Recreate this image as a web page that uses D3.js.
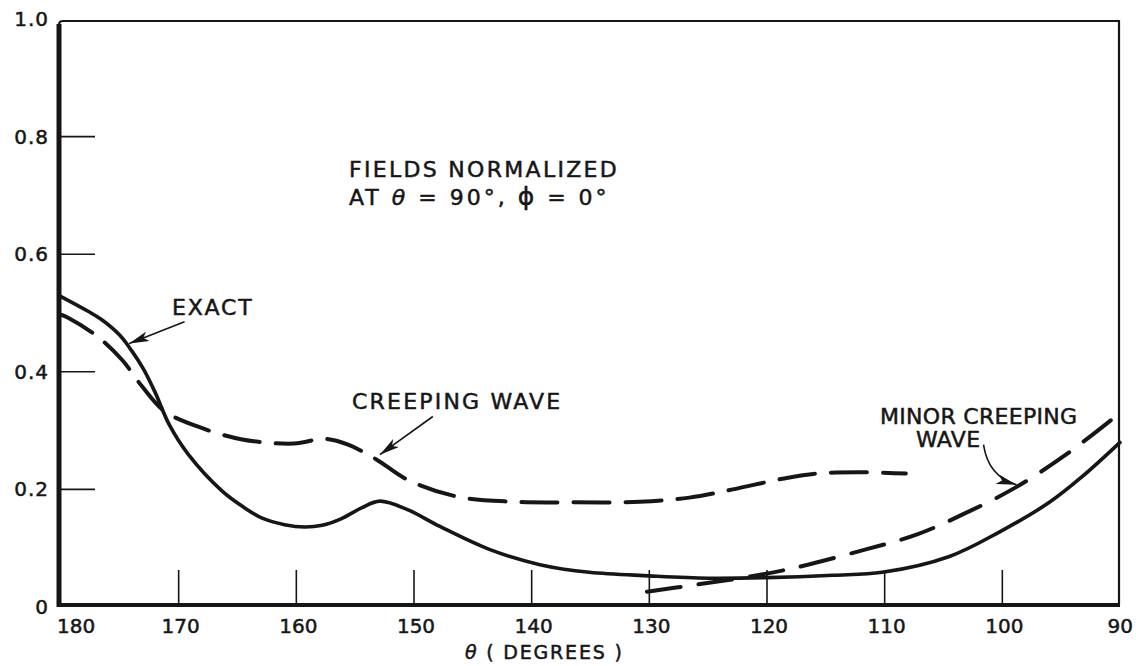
<!DOCTYPE html>
<html>
<head>
<meta charset="utf-8">
<script src="https://cdn.jsdelivr.net/npm/d3@7"></script>
<style>
  html, body { margin: 0; padding: 0; background: #fff; }
  svg { display: block; }
  text { font-family: "DejaVu Sans", sans-serif; fill: #161616; stroke: #161616; stroke-width: 0.5; }
</style>
</head>
<body>
<svg id="chart" width="1136" height="666"></svg>
<script>
// values (theta in degrees, normalized field)
const exactTheta = [180, 177.7, 176.5, 175, 174, 173, 172, 170.8, 169.2, 166.3, 164.5, 162.9, 161, 159.3, 157.8, 156.2, 154.5, 152.9, 150.6, 147.8, 143.6, 139.3, 135.1, 130, 125, 120, 114.4, 110.2, 104.5, 100.3, 96, 93.2, 90];
const exactVal   = [0.528, 0.503, 0.488, 0.462, 0.436, 0.405, 0.365, 0.31, 0.26, 0.197, 0.17, 0.151, 0.14, 0.136, 0.139, 0.15, 0.168, 0.18, 0.166, 0.137, 0.098, 0.072, 0.059, 0.053, 0.049, 0.05, 0.054, 0.059, 0.086, 0.127, 0.178, 0.222, 0.28];

const creepTheta = [180, 179.4, 176.9, 174.8, 173.1, 171.2, 168.4, 164.6, 160.2, 157.6, 155.6, 153.2, 150.6, 146.4, 141.6, 136.5, 130.8, 126.6, 122.9, 118.7, 115.8, 111.6, 108.2];
const creepVal   = [0.497, 0.492, 0.46, 0.42, 0.375, 0.333, 0.307, 0.285, 0.278, 0.286, 0.276, 0.251, 0.217, 0.188, 0.179, 0.178, 0.179, 0.186, 0.2, 0.218, 0.227, 0.229, 0.227];

const minorTheta = [130.2, 126, 122, 118, 111.6, 107.3, 103.1, 98.9, 94.6, 90.5];
const minorVal   = [0.026, 0.038, 0.05, 0.065, 0.098, 0.123, 0.16, 0.203, 0.259, 0.322];

const xTicks = [180, 170, 160, 150, 140, 130, 120, 110, 100, 90];
const yTicks = [0, 0.2, 0.4, 0.6, 0.8, 1.0];
const yTickLabels = ["0", "0.2", "0.4", "0.6", "0.8", "1.0"];

const svg = d3.select("#chart");
const ink = "#161616";

const x = d3.scaleLinear().domain([180, 90]).range([61, 1120]);
const y = d3.scaleLinear().domain([0, 1]).range([607, 19]);

const frameL = 59, frameR = 1119, frameT = 21, frameB = 605;

// frame: thin top/right, heavy left/bottom
svg.append("path")
  .attr("d", `M${frameL},${frameT + 4} Q${frameL},${frameT} ${frameL + 4},${frameT} L${frameR},${frameT} L${frameR},${frameB}`)
  .attr("fill", "none").attr("stroke", ink).attr("stroke-width", 2.2);
svg.append("line").attr("x1", frameL).attr("x2", frameL).attr("y1", frameT + 3).attr("y2", frameB + 2)
  .attr("stroke", ink).attr("stroke-width", 5);
svg.append("line").attr("x1", frameL - 2).attr("x2", frameR + 1).attr("y1", frameB).attr("y2", frameB)
  .attr("stroke", ink).attr("stroke-width", 4);

// inward ticks
svg.append("g").selectAll("line").data(yTicks.slice(1, -1)).join("line")
  .attr("x1", frameL).attr("x2", frameL + 36)
  .attr("y1", d => y(d)).attr("y2", d => y(d))
  .attr("stroke", ink).attr("stroke-width", 1.6);

svg.append("g").selectAll("line").data(xTicks.slice(1, -1)).join("line")
  .attr("x1", d => x(d)).attr("x2", d => x(d))
  .attr("y1", frameB).attr("y2", frameB - 35)
  .attr("stroke", ink).attr("stroke-width", 1.6);

// tick labels
svg.append("g").selectAll("text").data(yTicks).join("text")
  .attr("x", 49).attr("y", d => y(d) + 7)
  .attr("text-anchor", "end").attr("font-size", 20).attr("letter-spacing", 1)
  .text((d, i) => yTickLabels[i]);

svg.append("g").selectAll("text").data(xTicks).join("text")
  .attr("x", (d, i) => i === 0 ? 57 : (i === xTicks.length - 1 ? 1133 : x(d) + 2))
  .attr("y", 633)
  .attr("text-anchor", (d, i) => i === 0 ? "start" : (i === xTicks.length - 1 ? "end" : "middle"))
  .attr("font-size", 20)
  .text(d => d);

const title = svg.append("text").attr("x", 465).attr("y", 659).attr("font-size", 19).attr("letter-spacing", 1.8);
title.append("tspan").attr("font-style", "italic").text("θ");
title.append("tspan").text(" ( DEGREES )");

// curves
const line = d3.line().curve(d3.curveCatmullRom.alpha(0.5))
  .x(d => x(d[0])).y(d => y(d[1]));

svg.append("path").datum(d3.zip(exactTheta, exactVal))
  .attr("d", line).attr("fill", "none").attr("stroke", ink).attr("stroke-width", 3.6)
  .attr("stroke-linecap", "round");

svg.append("path").datum(d3.zip(creepTheta, creepVal))
  .attr("d", line).attr("fill", "none").attr("stroke", ink).attr("stroke-width", 4)
  .attr("stroke-dasharray", "36,16").attr("stroke-linecap", "round");

svg.append("path").datum(d3.zip(minorTheta, minorVal))
  .attr("d", line).attr("fill", "none").attr("stroke", ink).attr("stroke-width", 4)
  .attr("stroke-dasharray", "34,18").attr("stroke-linecap", "round");

// annotations
svg.append("defs").append("marker")
  .attr("id", "head").attr("viewBox", "0 0 20 10").attr("refX", 20).attr("refY", 5)
  .attr("markerWidth", 20).attr("markerHeight", 10).attr("markerUnits", "userSpaceOnUse")
  .attr("orient", "auto")
  .append("path").attr("d", "M0,0 L20,5 L0,10 L5,5 Z").attr("fill", ink);

function label(lines, px, py, lh, ls) {
  const t = svg.append("text").attr("font-size", 22).attr("letter-spacing", ls);
  lines.forEach((s, i) => t.append("tspan").attr("x", px[i]).attr("y", py + i * lh).text(s));
  return t;
}

label(["EXACT"], [172], 315, 0, 1.8);
svg.append("line")
  .attr("x1", x(169.5)).attr("y1", y(0.485)).attr("x2", x(174.2)).attr("y2", y(0.448))
  .attr("stroke", ink).attr("stroke-width", 1.6).attr("marker-end", "url(#head)");

label(["CREEPING WAVE"], [352], 409, 0, 2.2);
svg.append("line")
  .attr("x1", x(148.4)).attr("y1", y(0.324)).attr("x2", x(152.9)).attr("y2", y(0.259))
  .attr("stroke", ink).attr("stroke-width", 1.6).attr("marker-end", "url(#head)");

label(["FIELDS NORMALIZED"], [349], 177, 0, 2.3);
const at = svg.append("text").attr("x", 349).attr("y", 205).attr("font-size", 22).attr("letter-spacing", 3);
at.append("tspan").text("AT ");
at.append("tspan").attr("font-style", "italic").text("θ");
at.append("tspan").text(" = 90°, ");
at.append("tspan").attr("font-size", 25).text("ϕ");
at.append("tspan").text(" = 0°");

label(["MINOR CREEPING", "WAVE"], [880, 916], 424, 23, 0.3);
svg.append("path")
  .attr("d", `M${x(101.6)},${y(0.276)} Q${x(101.2)},${y(0.222)} ${x(98.8)},${y(0.208)}`)
  .attr("fill", "none").attr("stroke", ink).attr("stroke-width", 1.6).attr("marker-end", "url(#head)");
</script>
</body>
</html>
